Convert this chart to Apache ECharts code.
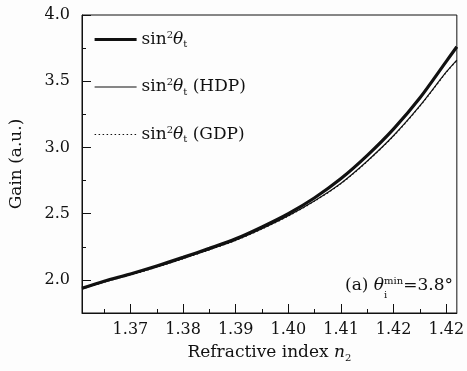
<!DOCTYPE html>
<html>
<head>
<meta charset="utf-8">
<script src="https://cdn.jsdelivr.net/npm/echarts@6/dist/echarts.min.js"></script>
<style>
  html, body { margin: 0; padding: 0; background: #fdfdfd; }
  #chart { width: 467px; height: 371px; }
</style>
</head>
<body>
<div id="chart"></div>
<script>
// refractive index n2 (x)
const nValues = [1.3608, 1.365, 1.37, 1.375, 1.38, 1.385, 1.39, 1.395, 1.40, 1.405, 1.41, 1.415, 1.42, 1.425, 1.43, 1.432]
// gain curves
const sinT = [1.937, 1.99, 2.045, 2.105, 2.17, 2.238, 2.31, 2.40, 2.50, 2.62, 2.765, 2.94, 3.14, 3.375, 3.65, 3.76]
const sinHDP = [1.932, 1.984, 2.039, 2.098, 2.162, 2.229, 2.30, 2.387, 2.485, 2.598, 2.73, 2.898, 3.09, 3.315, 3.57, 3.66]
const sinGDP = [1.931, 1.983, 2.037, 2.096, 2.16, 2.227, 2.298, 2.385, 2.482, 2.595, 2.727, 2.895, 3.087, 3.312, 3.567, 3.656]

const xMajor = [1.37, 1.38, 1.39, 1.40, 1.41, 1.42, 1.43]
const xMajorLabels = ["1.37", "1.38", "1.39", "1.40", "1.41", "1.42", "1.42"]
const xMinor = [1.365, 1.375, 1.385, 1.395, 1.405, 1.415, 1.425]
const yMajor = [2.0, 2.5, 3.0, 3.5, 4.0]
const yMinor = [2.25, 2.75, 3.25, 3.75]

const font = "DejaVu Serif"
const ink = "#111"

const pairs = (ys) => nValues.map((x, i) => [x, ys[i]])

const legendNames = {
  "s1": "{t|sin}{sup|2}{it|θ}{sub|t}",
  "s2": "{t|sin}{sup|2}{it|θ}{sub|t}{t| (HDP)}",
  "s3": "{t|sin}{sup|2}{it|θ}{sub|t}{t| (GDP)}",
}

const chart = echarts.init(document.getElementById("chart"))

const xBase = { type: "value", min: 1.3608, max: 1.432, gridIndex: 0, position: "bottom", offset: 0 }
const yBase = { type: "value", min: 1.75, max: 4.0, gridIndex: 0, position: "left", offset: 0 }

chart.setOption({
  animation: false,
  backgroundColor: "#fdfdfd",
  textStyle: { fontFamily: font, color: ink },
  grid: { left: 78, right: 8, top: 15, bottom: 58, show: true, borderColor: ink, borderWidth: 1, backgroundColor: "transparent" },
  legend: {
    orient: "vertical",
    left: 88,
    top: 25,
    itemWidth: 42,
    itemHeight: 12,
    itemGap: 28,
    selectedMode: false,
    itemStyle: { color: "transparent", borderWidth: 0, opacity: 0 },
    formatter: (name) => legendNames[name],
    textStyle: {
      fontFamily: font,
      color: ink,
      rich: {
        t: { fontFamily: font, fontSize: 17, color: ink },
        it: { fontFamily: font, fontSize: 17, fontStyle: "italic", color: ink },
        sup: { fontFamily: font, fontSize: 10, color: ink, padding: [0, 0, 9, 0] },
        sub: { fontFamily: font, fontSize: 10, color: ink, padding: [10, 0, 0, 0] },
      },
    },
    data: [
      { name: "s1", lineStyle: { color: ink, width: 3.2, type: "solid" } },
      { name: "s2", lineStyle: { color: ink, width: 1.2, type: "solid" } },
      { name: "s3", lineStyle: { color: ink, width: 1.2, type: [1.5, 2.5] } },
    ],
  },
  xAxis: [
    {
      ...xBase,
      name: "{t|Refractive index }{it|n}{sub|2}",
      nameLocation: "middle",
      nameGap: 30,
      nameTextStyle: {
        verticalAlign: "top",
        rich: {
          t: { fontFamily: font, fontSize: 17, color: ink },
          it: { fontFamily: font, fontSize: 17, fontStyle: "italic", color: ink },
          sub: { fontFamily: font, fontSize: 10, color: ink, padding: [10, 0, 0, 0] },
        },
      },
      axisLine: { show: true, lineStyle: { color: ink, width: 1 } },
      splitLine: { show: false },
      axisTick: { inside: true, length: 9, customValues: xMajor, lineStyle: { color: ink } },
      axisLabel: {
        customValues: xMajor,
        margin: 9,
        fontFamily: font,
        fontSize: 16,
        color: ink,
        formatter: (v) => {
          const i = xMajor.findIndex((m) => Math.abs(m - v) < 1e-6)
          return i >= 0 ? xMajorLabels[i] : ""
        },
      },
    },
    {
      ...xBase,
      axisLine: { show: false },
      splitLine: { show: false },
      axisTick: { inside: true, length: 4, customValues: xMinor, lineStyle: { color: ink } },
      axisLabel: { show: false },
    },
  ],
  yAxis: [
    {
      ...yBase,
      name: "Gain (a.u.)",
      nameLocation: "middle",
      nameGap: 57,
      nameRotate: 90,
      nameTextStyle: { fontFamily: font, fontSize: 17, color: ink },
      axisLine: { show: true, lineStyle: { color: ink, width: 1 } },
      splitLine: { show: false },
      axisTick: { inside: true, length: 9, customValues: yMajor, lineStyle: { color: ink } },
      axisLabel: {
        customValues: yMajor,
        margin: 12,
        fontFamily: font,
        fontSize: 16,
        color: ink,
        formatter: (v) => v.toFixed(1),
      },
    },
    {
      ...yBase,
      axisLine: { show: false },
      splitLine: { show: false },
      axisTick: { inside: true, length: 4, customValues: yMinor, lineStyle: { color: ink } },
      axisLabel: { show: false },
    },
  ],
  series: [
    {
      name: "s1",
      type: "line",
      smooth: 0.3,
      symbol: "none",
      data: pairs(sinT),
      lineStyle: { color: ink, width: 3.2 },
      itemStyle: { color: ink },
      z: 3,
    },
    {
      name: "s2",
      type: "line",
      smooth: 0.3,
      symbol: "none",
      data: pairs(sinHDP),
      lineStyle: { color: ink, width: 1.2 },
      itemStyle: { color: ink },
      z: 2,
    },
    {
      name: "s3",
      type: "line",
      smooth: 0.3,
      symbol: "none",
      data: pairs(sinGDP),
      lineStyle: { color: ink, width: 1.2, type: [1.5, 2.5] },
      itemStyle: { color: ink },
      z: 4,
    },
  ],
  graphic: [
    {
      type: "text",
      right: 14,
      top: 276,
      style: {
        text: "{t|(a) }{it|θ}{sup|min}{t|=3.8°}",
        fill: ink,
        rich: {
          t: { fontFamily: font, fontSize: 17, fill: ink },
          it: { fontFamily: font, fontSize: 17, fontStyle: "italic", fill: ink },
          sup: { fontFamily: font, fontSize: 10, fill: ink, padding: [0, 0, 9, 0] },
        },
      },
    },
    {
      type: "text",
      left: 384,
      top: 290,
      style: { text: "i", fontFamily: font, fontSize: 10, fill: ink },
    },
  ],
})
</script>
</body>
</html>
